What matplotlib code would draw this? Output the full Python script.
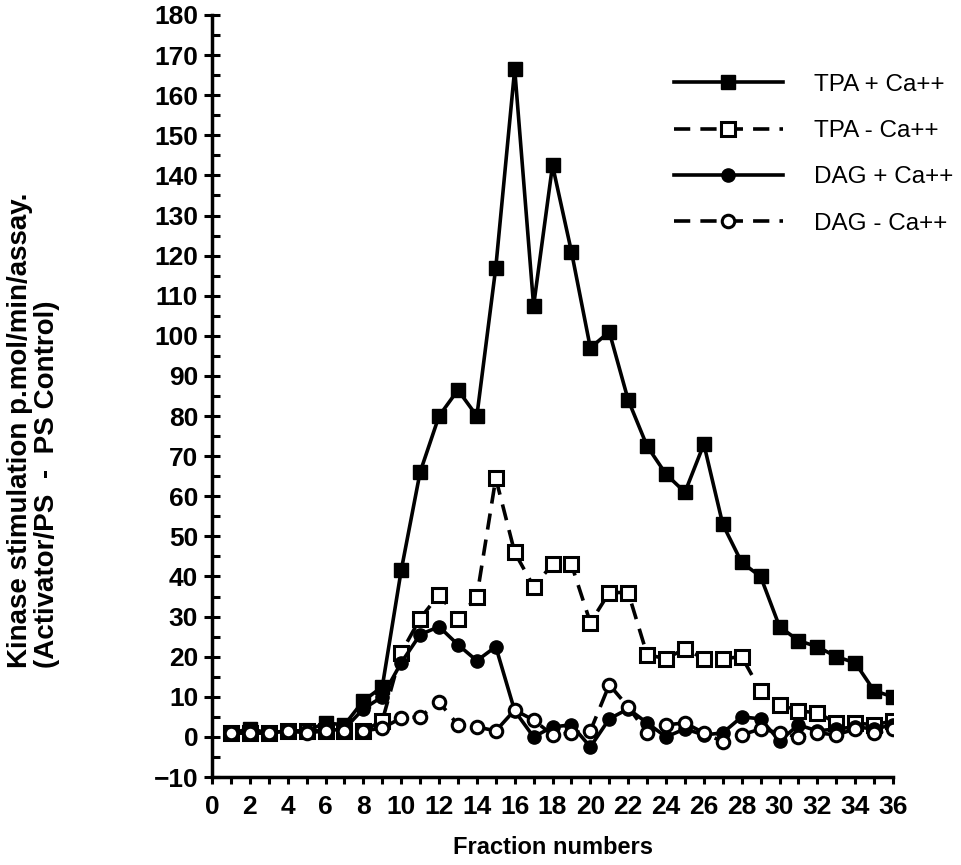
import matplotlib
matplotlib.use("Agg")
import matplotlib.pyplot as plt
from matplotlib.ticker import MultipleLocator

plt.rcParams['font.family'] = ['Liberation Sans', 'DejaVu Sans']

# Fraction numbers (x axis)
fractions = list(range(1, 37))

# Kinase stimulation values
tpa_plus_ca = [1, 2, 1, 1.5, 1.5, 3.5, 3, 9, 12.5, 41.5, 66, 80, 86.5, 80, 117, 166.5, 107.5, 142.5,
               121, 97, 101, 84, 72.5, 65.5, 61, 73, 53, 43.5, 40, 27.5, 24, 22.5, 20, 18.5, 11.5, 10]
tpa_minus_ca = [1, 1, 1, 1.5, 1.5, 1.5, 1.5, 1.5, 4, 21, 29.5, 35.5, 29.5, 35, 64.5, 46, 37.5, 43,
                43, 28.5, 36, 36, 20.5, 19.5, 22, 19.5, 19.5, 20, 11.5, 8, 6.5, 6, 3.5, 3.5, 3, 4]
dag_plus_ca = [1, 1, 1, 1.5, 1.5, 1.5, 2, 7, 10, 18.5, 25.5, 27.5, 23, 19, 22.5, 6.5, 0, 2.5,
               3, -2.5, 4.5, 7, 3.5, 0, 2, 0.5, 1, 5, 4.5, -1, 3, 1.5, 2, 2.5, 2, 3]
dag_minus_ca = [1, 1, 1, 1.5, 1, 1.5, 1.5, 1.5, 2.2, 4.7, 5, 8.7, 3, 2.5, 1.5, 6.7, 4.2, 0.5,
                1, 1.5, 13, 7.5, 1, 3, 3.5, 1, -1.2, 0.5, 2, 1, 0, 1, 0.5, 2, 1, 2]

series_labels = ['TPA + Ca++', 'TPA - Ca++', 'DAG + Ca++', 'DAG - Ca++']

fig = plt.figure(figsize=(9.62, 8.65), dpi=100)
ax = fig.add_axes([0.2204, 0.1017, 0.7079, 0.881])

lw = 2.6
dash = (4.5, 2.8)

ax.plot(fractions, tpa_plus_ca, '-', color='black', lw=lw, marker='s', ms=10,
        mfc='black', mec='black', label=series_labels[0])
ax.plot(fractions, tpa_minus_ca, '--', color='black', lw=lw, dashes=dash, marker='s', ms=9.5,
        mfc='white', mec='black', mew=2.2, label=series_labels[1])
ax.plot(fractions, dag_plus_ca, '-', color='black', lw=lw, marker='o', ms=9.5,
        mfc='black', mec='black', label=series_labels[2])
ax.plot(fractions, dag_minus_ca, '--', color='black', lw=lw, dashes=dash, marker='o', ms=9,
        mfc='white', mec='black', mew=2.2, label=series_labels[3])

# Axes limits and ticks
ax.set_xlim(0, 36)
ax.set_ylim(-10, 180)
ax.xaxis.set_major_locator(MultipleLocator(2))
ax.xaxis.set_minor_locator(MultipleLocator(1))
ax.yaxis.set_major_locator(MultipleLocator(10))
ax.yaxis.set_minor_locator(MultipleLocator(5))

for side in ['top', 'right']:
    ax.spines[side].set_visible(False)
for side in ['left', 'bottom']:
    ax.spines[side].set_linewidth(2.5)

ax.tick_params(axis='y', which='major', direction='inout', length=12, width=2.2, labelsize=19, pad=4)
ax.tick_params(axis='y', which='minor', direction='in', length=6, width=2.2)
ax.tick_params(axis='x', which='both', direction='out', length=5, width=2.2, labelsize=19, pad=8)
for lab in ax.get_xticklabels() + ax.get_yticklabels():
    lab.set_fontweight('bold')

ax.set_xlabel('Fraction numbers', fontsize=17, fontweight='bold', labelpad=12)
# y label: two lines, left aligned (bottom of the rotated text)
fig.text(0.035, 1 - 668 / 865, 'Kinase stimulation p.mol/min/assay.\n(Activator/PS  -  PS Control)',
         rotation=90, ha='center', va='bottom', multialignment='left',
         fontsize=20, fontweight='bold', linespacing=1.07)

leg = fig.legend(loc='upper left', bbox_to_anchor=(0.69, 0.926), frameon=False, fontsize=17.5,
                 handlelength=4.5, handletextpad=1.3, labelspacing=1.0, borderaxespad=0)

fig.savefig('out.png', dpi=100)
